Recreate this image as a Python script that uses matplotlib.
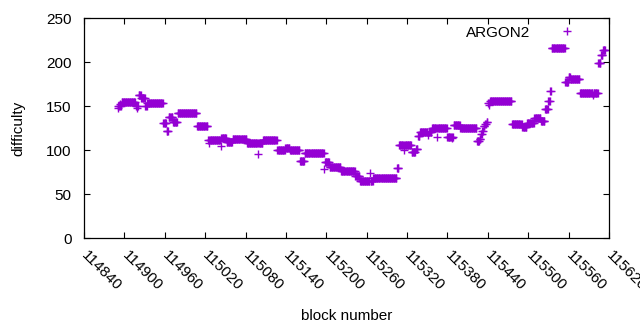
import numpy as np
import matplotlib
matplotlib.use("Agg")
import matplotlib.pyplot as plt

plt.rcParams['font.family'] = ['Liberation Sans', 'DejaVu Sans']

# Difficulty read off the picture as runs: each run starts at a block and
# holds its value until the next run starts.
run_start = [114890, 114896, 114917, 114921, 114925, 114931, 114934, 114958,
             114963, 114966, 114972, 114979, 115008, 115024, 115044, 115052,
             115061, 115082, 115106, 115127, 115139, 115146, 115161, 115168,
             115198, 115205, 115222, 115243, 115250, 115270, 115305, 115308,
             115327, 115333, 115336, 115339, 115357, 115380, 115389, 115399,
             115424, 115428, 115430, 115432, 115434, 115436, 115438, 115440,
             115442, 115476, 115491, 115498, 115509, 115519, 115525, 115530,
             115533, 115535, 115555, 115560, 115563, 115577, 115604, 115608,
             115611]
run_value = [150, 155, 150, 163, 159, 150, 153, 131,
             122, 137, 132, 142, 127, 111, 114, 109,
             112, 108, 111, 100, 102, 100, 88, 97,
             86, 81, 76, 70, 65, 68, 80, 106,
             98, 101, 116, 121, 125, 115, 128, 125,
             110, 113, 118, 122, 127, 130, 132, 153,
             156, 130, 126, 131, 136, 133, 147, 156,
             167, 216, 177, 183, 181, 165, 199, 208,
             214]
last_block = 115614

# Single blocks that stand out from their run
odd_block = [114891, 114893, 114919, 115026, 115043, 115099, 115197, 115265,
             115315, 115351, 115364, 115387, 115442, 115596]
odd_value = [148, 152, 148, 108, 105, 96, 78, 74,
             100, 117, 115, 114, 151, 163]

ends = run_start[1:] + [last_block + 1]
blocks = np.concatenate([np.arange(s, e) for s, e in zip(run_start, ends)])
values = np.concatenate([np.full(e - s, v, dtype=float)
                         for s, e, v in zip(run_start, ends, run_value)])
idx = np.searchsorted(blocks, odd_block)
values[idx] = odd_value

xticks = list(range(114840, 115621, 60))
yticks = [0, 50, 100, 150, 200, 250]

fig = plt.figure(figsize=(6.4, 3.3), dpi=100)
ax = fig.add_axes([84/640, 1 - 238/330, (609-84)/640, (238-18)/330])

color = '#9400D3'
ax.plot(blocks, values, linestyle='none', marker='+', markersize=5.5,
        markeredgewidth=1.0, color=color, label='ARGON2')

ax.set_xlim(114840, 115620)
ax.set_ylim(0, 250)
ax.set_xticks(xticks)
ax.set_yticks(yticks)
ax.set_xticklabels([str(t) for t in xticks], rotation=-45, ha='left',
                   va='center', rotation_mode='anchor')
ax.tick_params(direction='in', length=4, width=0.8, top=True, right=True,
               labelsize=11)
ax.tick_params(axis='x', pad=11)
ax.tick_params(axis='y', pad=9)
for lbl in ax.get_xticklabels():
    lbl.set_clip_on(False)
for s in ax.spines.values():
    s.set_linewidth(0.9)

ax.set_xlabel('block number', fontsize=11, labelpad=11)
ax.set_ylabel('difficulty', fontsize=11, labelpad=15)

leg = ax.legend(loc='upper right', bbox_to_anchor=(0.9695, 1.014), frameon=False,
                markerfirst=False, fontsize=11, handlelength=2.0,
                handletextpad=1.4, borderaxespad=0.3)

fig.savefig('out.png', dpi=100)
